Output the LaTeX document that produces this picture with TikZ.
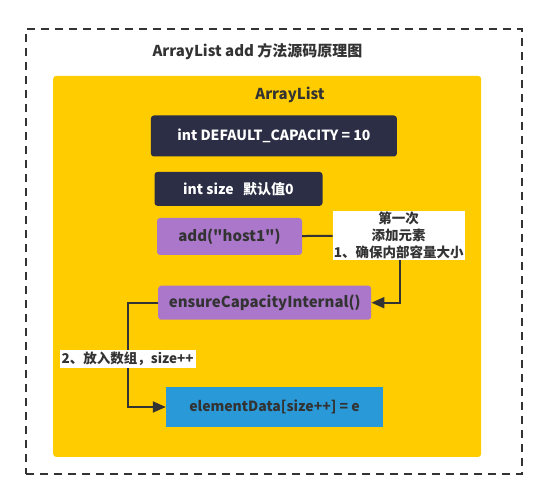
\documentclass[tikz,border=0pt]{standalone}
\usepackage{fontspec}
\newfontfamily\yahei{Noto Sans CJK SC}
\usepackage{tikz}
\usetikzlibrary{arrows.meta}

\definecolor{inkgray}{HTML}{333333}
\definecolor{listyellow}{HTML}{FFCC00}
\definecolor{fieldnavy}{HTML}{2B2E45}
\definecolor{methodpurple}{HTML}{AB77CA}
\definecolor{arrayblue}{HTML}{2A99D8}

\tikzset{
  field/.style={fill=fieldnavy, rounded corners=3pt, text=white, font=\yahei\bfseries\fontsize{14}{16}\selectfont},
  method/.style={fill=methodpurple, rounded corners=3pt, text=inkgray, font=\yahei\bfseries\fontsize{15}{17}\selectfont},
  note/.style={fill=white, inner sep=1pt, align=center, text=inkgray, font=\yahei\bfseries\fontsize{13.5}{17}\selectfont},
  flow/.style={draw=inkgray, line width=2pt, -{Triangle[length=13pt,width=11pt]}}
}

\begin{document}
\begin{tikzpicture}[x=1pt,y=-1pt]

\useasboundingbox (0,0) rectangle (547,500);

\node[draw=inkgray, line width=2pt, dash pattern=on 8pt off 6pt, minimum width=496pt, minimum height=445pt] (frame) at (273.9,251.7) {};

\node[fill=listyellow, rounded corners=3pt, minimum width=428pt, minimum height=381pt] (list) at (267.2,266.4) {};

\node[text=inkgray, font=\yahei\bfseries\fontsize{15}{17}\selectfont] (title) at (257.5,52) {ArrayList add 方法源码原理图};

\node[text=inkgray, font=\yahei\bfseries\fontsize{15}{17}\selectfont] (name) at (290,95) {ArrayList};

\node[field, minimum width=246pt, minimum height=41pt] (cap) at (273.9,136) {int DEFAULT\_CAPACITY = 10};

\node[field, minimum width=168pt, minimum height=34pt] (size) at (238.5,188.9) {int size\ \ \ 默认值0};

\node[method, minimum width=145pt, minimum height=37pt] (add) at (229.5,236.5) {add("host1")};

\node[note, minimum width=127pt, minimum height=49pt] (first) at (398.7,235.4) {第一次\\添加元素\\1、确保内部容量大小};

\node[method, minimum width=213pt, minimum height=34pt] (ensure) at (264.7,302.7) {ensureCapacityInternal()};

\node[fill=arrayblue, text=inkgray, font=\yahei\bfseries\fontsize{14}{16}\selectfont, minimum width=217pt, minimum height=40pt] (elem) at (274.5,407) {elementData[size++] = e};

\coordinate (bend) at (127.7,302.7);


\draw[draw=inkgray, line width=2pt] (add) -- (first);
\draw[flow] (first.south -| 400,0) |- (ensure.east);
\draw[flow] (ensure.west) -- (bend) |- node[note, pos=0.27, inner sep=2pt] (put) {2、放入数组，size++} (elem.west);


\end{tikzpicture}
\end{document}
